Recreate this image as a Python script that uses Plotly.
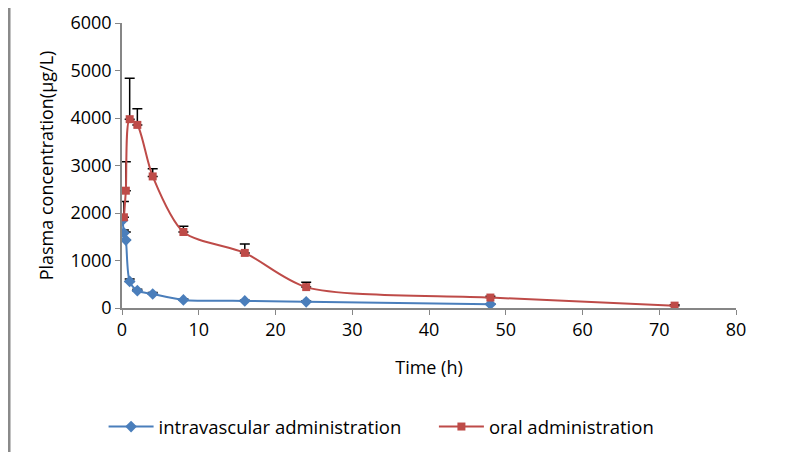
import plotly.graph_objects as go

# Data
iv_time = [0.083, 0.25, 0.5, 1, 2, 4, 8, 16, 24, 48]
iv_conc = [1850, 1580, 1430, 560, 365, 295, 170, 150, 130, 80]
iv_err = [60, 60, 170, 50, 30, 30, 20, 15, 15, 10]

oral_time = [0.25, 0.5, 1, 2, 4, 8, 16, 24, 48, 72]
oral_conc = [1910, 2470, 3975, 3855, 2770, 1600, 1160, 440, 220, 50]
oral_err = [330, 610, 860, 340, 160, 120, 190, 100, 30, 20]

x_ticks = [0, 10, 20, 30, 40, 50, 60, 70, 80]
y_ticks = [0, 1000, 2000, 3000, 4000, 5000, 6000]

BLUE = "#4a7ebb"
RED = "#be4b48"
FONT = "Open Sans"
FS = 18

fig = go.Figure()
fig.add_trace(go.Scatter(
    x=iv_time, y=iv_conc, name="intravascular administration",
    mode="lines+markers", legend="legend",
    line=dict(color=BLUE, width=2, shape="spline", smoothing=0.8),
    marker=dict(symbol="diamond", size=9, color=BLUE),
    error_y=dict(type="data", symmetric=False, array=iv_err,
                 arrayminus=[0] * len(iv_err), color="black", thickness=1.5, width=5),
))
fig.add_trace(go.Scatter(
    x=oral_time, y=oral_conc, name="oral administration",
    mode="lines+markers", legend="legend2",
    line=dict(color=RED, width=2, shape="spline", smoothing=0.8),
    marker=dict(symbol="square", size=8, color=RED),
    error_y=dict(type="data", symmetric=False, array=oral_err,
                 arrayminus=[0] * len(oral_err), color="black", thickness=1.5, width=5),
))

leg_common = dict(orientation="h", xanchor="left", yref="container", y=0.073,
                  yanchor="middle", font=dict(size=18.5), itemwidth=45,
                  bgcolor="rgba(0,0,0,0)")

fig.update_layout(
    width=800, height=452,
    margin=dict(l=114, r=72, t=15, b=152),
    paper_bgcolor="white", plot_bgcolor="white",
    font=dict(family=FONT, size=FS, color="black"),
    showlegend=True,
    legend=dict(x=-0.03, **leg_common),
    legend2=dict(x=0.508, **leg_common),
    shapes=[dict(type="line", xref="paper", yref="paper",
                 x0=-0.184, x1=-0.184, y0=-0.6, y1=1.1,
                 line=dict(color="#8a8a8a", width=3))],
)
fig.update_xaxes(
    range=[0, 80], tickvals=x_ticks, showgrid=False, zeroline=False,
    showline=True, linecolor="#868686", linewidth=1.5, automargin=False,
    ticks="outside", ticklen=5, tickcolor="#868686",
    title=dict(text="Time (h)", font=dict(size=FS), standoff=21),
    tickfont=dict(size=FS),
)
fig.update_yaxes(
    range=[0, 6000], tickvals=y_ticks, showgrid=False, zeroline=False,
    showline=True, linecolor="#868686", linewidth=1.5, automargin=False,
    ticks="outside", ticklen=5, tickcolor="#868686",
    title=dict(text="Plasma concentration(μg/L)", font=dict(size=FS), standoff=12),
    tickfont=dict(size=FS),
)

fig.write_html("out.html")
